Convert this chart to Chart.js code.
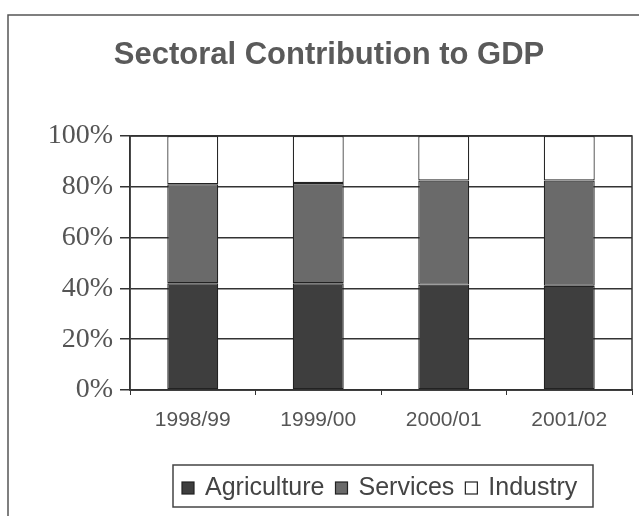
<!DOCTYPE html>
<html>
<head>
<meta charset="utf-8">
<script src="https://cdn.jsdelivr.net/npm/chart.js@4"></script>
<style>
  html, body { margin: 0; padding: 0; background: #fff; }
  #wrap { position: relative; width: 639px; height: 516px; }
  canvas { display: block; }
</style>
</head>
<body>
<div id="wrap"><canvas id="c" width="639" height="516"></canvas></div>
<script>
const categories = ["1998/99", "1999/00", "2000/01", "2001/02"];
const agriculture = [42, 42, 41.5, 41];
const services = [39, 39.5, 41, 41.5];
const industry = [19, 18.5, 17.5, 17.5];
const yTicks = [0, 20, 40, 60, 80, 100];
const seriesLabels = ["Agriculture", "Services", "Industry"];
const titleText = "Sectoral Contribution to GDP";

const colors = ["#3e3e3e", "#6a6a6a", "#ffffff"];

const decor = {
  id: 'decor',
  beforeDraw(chart) {
    const ctx = chart.ctx;
    ctx.save();
    ctx.fillStyle = '#fff';
    ctx.fillRect(0, 0, chart.width, chart.height);
    ctx.strokeStyle = '#555';
    ctx.lineWidth = 1.5;
    ctx.beginPath();
    ctx.moveTo(8, 530);
    ctx.lineTo(8, 15);
    ctx.lineTo(660, 15);
    ctx.stroke();
    ctx.restore();
  },
  afterDraw(chart) {
    const ctx = chart.ctx;
    const a = chart.chartArea;
    ctx.save();
    ctx.strokeStyle = '#333';
    ctx.lineWidth = 1.5;
    ctx.strokeRect(a.left, a.top, a.right - a.left, a.bottom - a.top);
    ctx.fillStyle = '#5a5a5a';
    ctx.font = 'bold 31px "Liberation Sans", Arial, sans-serif';
    ctx.textAlign = 'center';
    ctx.textBaseline = 'alphabetic';
    ctx.fillText(titleText, 329, 64);
    ctx.font = '25px "Liberation Sans", Arial, sans-serif';
    ctx.textAlign = 'left';
    let x = 182;
    const baseY = 495;
    chart.data.datasets.forEach((d) => {
      ctx.fillStyle = d.backgroundColor;
      ctx.fillRect(x, 482, 12, 12);
      ctx.strokeStyle = '#222';
      ctx.lineWidth = 1.2;
      ctx.strokeRect(x, 482, 12, 12);
      x += 12 + 11;
      ctx.fillStyle = '#444';
      ctx.fillText(d.label, x, baseY);
      x += ctx.measureText(d.label).width + 11;
    });
    ctx.strokeStyle = '#444';
    ctx.lineWidth = 1.5;
    ctx.strokeRect(173, 465, 420, 42);
    ctx.restore();
  }
};

new Chart(document.getElementById('c'), {
  type: 'bar',
  data: {
    labels: categories,
    datasets: [
      { label: seriesLabels[0], data: agriculture, backgroundColor: colors[0] },
      { label: seriesLabels[1], data: services, backgroundColor: colors[1] },
      { label: seriesLabels[2], data: industry, backgroundColor: colors[2] }
    ].map(d => Object.assign(d, {
      borderColor: '#222', borderWidth: 1.2, borderSkipped: false,
      categoryPercentage: 1, barPercentage: 0.406
    }))
  },
  options: {
    responsive: false,
    animation: false,
    events: [],
    layout: { padding: { top: 136, right: 7, left: 0, bottom: 0 } },
    plugins: { legend: { display: false }, title: { display: false }, tooltip: { enabled: false } },
    scales: {
      x: {
        stacked: true,
        offset: true,
        grid: { drawOnChartArea: false, drawTicks: true, tickLength: 5, color: '#333', offset: true },
        border: { display: true, color: '#333', width: 1.5 },
        ticks: { color: '#555', font: { family: '"Liberation Sans", Arial, sans-serif', size: 21 }, padding: 13, maxRotation: 0 },
        afterFit(s) { s.height = 126; }
      },
      y: {
        stacked: true,
        min: 0, max: 100,
        afterBuildTicks(s) { s.ticks = yTicks.map(v => ({ value: v })); },
        grid: { color: '#333', lineWidth: 1.5, tickLength: 10 },
        border: { display: true, color: '#333', width: 1.5 },
        ticks: {
          color: '#555',
          font: { family: '"Liberation Serif", "Times New Roman", serif', size: 28 },
          padding: 7,
          callback: v => v + '%'
        },
        afterFit(s) { s.width = 130; }
      }
    }
  },
  plugins: [decor]
});
</script>
</body>
</html>
